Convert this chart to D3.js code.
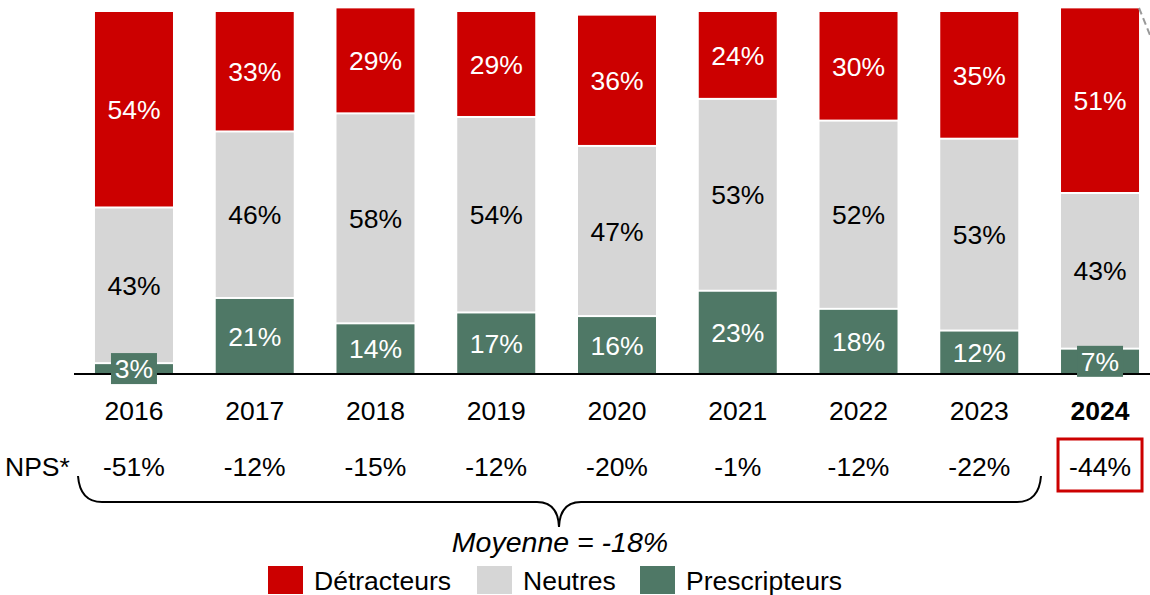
<!DOCTYPE html>
<html><head><meta charset="utf-8">
<script src="https://cdn.jsdelivr.net/npm/d3@7"></script>
<style>body{margin:0;background:#fff}svg{display:block;font-family:"Liberation Sans",Arial,sans-serif}</style>
</head><body>
<svg id="c" width="1150" height="595"></svg>
<script>
const years = ["2016","2017","2018","2019","2020","2021","2022","2023","2024"];
const prescripteurs = [3,21,14,17,16,23,18,12,7];
const neutres = [43,46,58,54,47,53,52,53,43];
const detracteurs = [54,33,29,29,36,24,30,35,51];
const nps = ["-51%","-12%","-15%","-12%","-20%","-1%","-12%","-22%","-44%"];
const moyenneLabel = "Moyenne = -18%";
const seriesNames = ["Détracteurs","Neutres","Prescripteurs"];
const colors = {"Détracteurs":"#cc0000","Neutres":"#d6d6d6","Prescripteurs":"#4f7866"};
const textColors = {"Détracteurs":"#fff","Neutres":"#000","Prescripteurs":"#fff"};
const FS = 26.5;

const svg = d3.select("#c");
const x = d3.scaleBand().domain(years).range([73.6,1160.4]).paddingInner(0.354).paddingOuter(0.177);
const y = d3.scaleLinear().domain([0,100]).range([374,12]);

const rows = years.map((yr,i)=>({year:yr, Prescripteurs:prescripteurs[i], Neutres:neutres[i], "Détracteurs":detracteurs[i]}));
const stack = d3.stack().keys(["Prescripteurs","Neutres","Détracteurs"]);
const layers = stack(rows);

const g = svg.append("g");
layers.forEach(layer=>{
  const key = layer.key;
  layer.forEach(d=>{
    const yr = d.data.year;
    const y0 = y(d[0]), y1 = y(d[1]);
    const top = y1 + (key==="Détracteurs"?0:1);
    const bot = y0 - (key==="Prescripteurs"?0:1);
    g.append("rect").attr("x",x(yr)).attr("width",x.bandwidth())
      .attr("y",top).attr("height",Math.max(0,bot-top)).attr("fill",colors[key]);
  });
});
// baseline
svg.append("line").attr("x1",74).attr("x2",1150).attr("y1",374).attr("y2",374).attr("stroke","#000").attr("stroke-width",2);
// labels (drawn above baseline)
const lab = svg.append("g");
layers.forEach(layer=>{
  const key = layer.key;
  layer.forEach(d=>{
    const yr = d.data.year;
    const v = d[1]-d[0];
    const cy = (y(d[0])+y(d[1]))/2;
    const cx = x(yr)+x.bandwidth()/2;
    if (y(d[0])-y(d[1]) < 30) {
      lab.append("rect").attr("x",cx-23).attr("y",cy-15.5).attr("width",46).attr("height",31).attr("fill",colors[key]);
    }
    lab.append("text").attr("x",cx).attr("y",cy).attr("dy","0.36em").attr("text-anchor","middle")
      .attr("font-size",FS).attr("fill",textColors[key]).text(v+"%");
  });
});
// years
const xAxis = d3.axisBottom(x).tickSize(0).tickPadding(0);
const ax = svg.append("g").attr("transform","translate(0,401)").call(xAxis);
ax.select(".domain").remove();
ax.selectAll("text").attr("font-size",FS).attr("font-family","Liberation Sans, Arial, sans-serif").attr("fill","#000")
  .attr("y",0).attr("dy","0.71em")
  .attr("font-weight",d=>d==="2024"?"bold":"normal");
// NPS row
svg.append("text").attr("x",5).attr("y",466).attr("dy","0.36em").attr("font-size",FS).text("NPS*");
svg.selectAll(".nps").data(years).enter().append("text")
  .attr("x",d=>x(d)+x.bandwidth()/2).attr("y",466).attr("dy","0.36em").attr("text-anchor","middle")
  .attr("font-size",FS).text((d,i)=>nps[i]);
// highlight box
const last = years[years.length-1];
svg.append("rect").attr("x",x(last)+x.bandwidth()/2-42).attr("y",439).attr("width",84).attr("height",52)
  .attr("fill","none").attr("stroke","#cc0000").attr("stroke-width",3);
// brace
const bx0 = 78, bx1 = 1041, bm = 559, by = 502;
svg.append("path").attr("d",
  `M${bx0},476 Q${bx0+2},${by} ${bx0+24},${by} L${bm-22},${by} Q${bm-1},${by} ${bm},527 Q${bm+1},${by} ${bm+22},${by} L${bx1-24},${by} Q${bx1-2},${by} ${bx1},476`)
  .attr("fill","none").attr("stroke","#000").attr("stroke-width",2);
svg.append("text").attr("x",560).attr("y",552).attr("text-anchor","middle").attr("font-size",28.5)
  .attr("font-style","italic").text(moyenneLabel);
// dashed corner line
svg.append("line").attr("x1",1139).attr("y1",8).attr("x2",1152).attr("y2",40)
  .attr("stroke","#999").attr("stroke-width",2).attr("stroke-dasharray","7,4");
// legend
const legX = [268, 477, 640];
const lg = svg.append("g");
seriesNames.forEach((s,i)=>{
  lg.append("rect").attr("x",legX[i]).attr("y",566).attr("width",35).attr("height",28).attr("fill",colors[s]);
  lg.append("text").attr("x",legX[i]+46).attr("y",580).attr("dy","0.36em").attr("font-size",FS).text(s);
});
</script>
</body></html>
